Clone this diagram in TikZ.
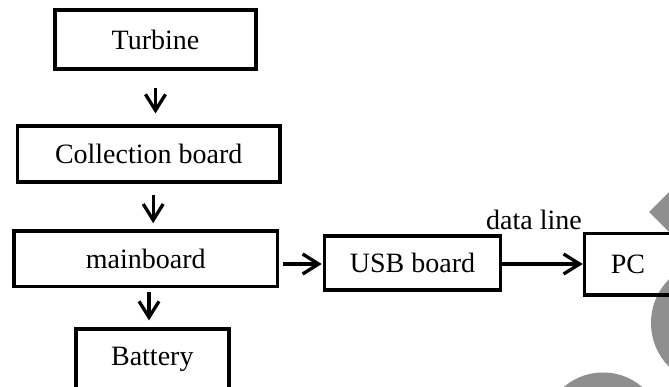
\documentclass[tikz,border=0pt]{standalone}
\usepackage{fontspec}
\setmainfont{Liberation Serif}
\usetikzlibrary{arrows.meta,calc}
\begin{document}
\begin{tikzpicture}[x=1pt,y=-1pt,
  block/.style={draw, line width=3.6pt, inner sep=0pt, fill=none,
                font=\fontsize{28}{32}\selectfont},
  flow/.style={line width=3.3pt,
               -{Straight Barb[length=16pt,width=20pt]}},
  blot/.style={fill=black!44, draw=none},
  lbl/.style={inner sep=0pt, font=\fontsize{28}{32}\selectfont}]
\useasboundingbox (0,0) rectangle (669,387);
\clip (0,0) rectangle (669,387);

% grey decorative shapes along the right edge
\fill[blot] (649,212) -- (690,171) -- (731,212) -- (690,253) -- cycle;
\fill[blot] (713,323) circle (62);
\fill[blot] (603,433) circle (60.5);

% blocks
\node[block, minimum width=201.5pt, minimum height=59.5pt]  (turb) at (155.5,39.5) {Turbine};
\node[block, minimum width=262.5pt, minimum height=55.5pt]  (coll) at (148.7,154)  {Collection board};
\node[block, minimum width=263.5pt, minimum height=55.5pt]  (main) at (145.8,258.7) {mainboard};
\node[block, minimum width=153pt, minimum height=62pt]      (batt) at (152.3,359.7) {Battery};
\node[block, minimum width=176pt, minimum height=54pt]      (usb)  at (412.5,263)  {USB board};
\node[block, minimum width=87pt, minimum height=61.5pt]     (pc)   at (628,264.2)  {PC};

% connectors
\draw[flow, shorten <=17pt, shorten >=11pt] (turb.south) -- (turb.south |- coll.north);
\coordinate (c1) at ($(coll.south)+(4.5,0)$);
\draw[flow, shorten <=11pt, shorten >=6pt] (c1) -- (c1 |- main.north);
\coordinate (c2) at ($(main.south)+(3.2,0)$);
\draw[flow, shorten <=3.5pt, shorten >=6.5pt] (c2) -- (c2 |- batt.north);
\coordinate (c3) at (main.east |- 0,264);
\draw[flow, shorten <=3.5pt, shorten >=1pt] (c3) -- (c3 -| usb.west);
\coordinate (c4) at (usb.east |- 0,264);
\draw[flow] (c4) -- (c4 -| pc.west);

\node[lbl, anchor=base] (dl) at (534,230) {data line};
\end{tikzpicture}
\end{document}
